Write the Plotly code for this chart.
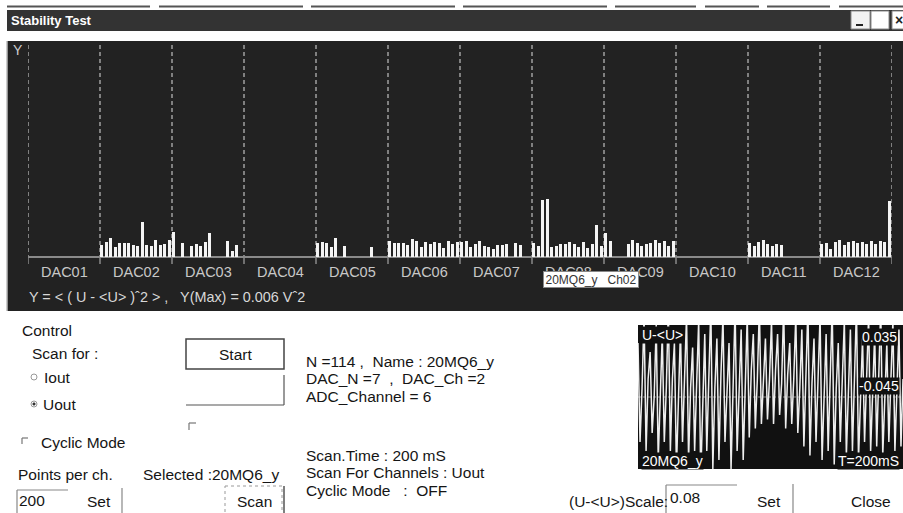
import plotly.graph_objects as go

W, H = 903, 513
FONT = "Liberation Sans, Arial, sans-serif"
FS = 15.5

# ---------------- data ----------------
dac_names = ["DAC01", "DAC02", "DAC03", "DAC04", "DAC05", "DAC06",
             "DAC07", "DAC08", "DAC09", "DAC10", "DAC11", "DAC12"]
channels_per_dac = 16
# Y = <(U-<U>)^2> per channel, units of 1e-5 V^2 (full scale Y(Max)=0.006 V^2 = 600)
dac01 = [0] * 16
dac02 = [33, 43, 52, 29, 40, 38, 40, 34, 32, 98, 34, 32, 47, 33, 35, 47]
dac03 = [71, 0, 40, 0, 31, 36, 32, 42, 67, 0, 0, 0, 45, 18, 33, 0]
dac04 = [0] * 16
dac05 = [39, 43, 40, 29, 54, 0, 31, 0, 0, 0, 0, 0, 29, 0, 0, 0]
dac06 = [45, 38, 38, 38, 33, 49, 45, 29, 41, 36, 43, 38, 24, 45, 36, 41]
dac07 = [41, 45, 29, 35, 44, 31, 27, 23, 34, 34, 37, 0, 39, 33, 0, 0]
dac08 = [38, 32, 159, 162, 27, 30, 36, 36, 42, 35, 28, 43, 24, 37, 89, 32]
dac09 = [68, 44, 0, 0, 0, 35, 47, 38, 30, 37, 38, 47, 40, 45, 30, 46]
dac10 = [0] * 16
dac11 = [39, 30, 41, 47, 37, 31, 36, 33, 0, 0, 0, 0, 0, 0, 0, 0]
dac12 = [37, 40, 23, 43, 47, 34, 42, 45, 40, 42, 36, 45, 37, 45, 43, 156]
y_full_scale = 600

# U-<U> waveform of selected channel (V), display scale 0.08
wave = [0.06, -0.05, 0.01, 0.09, -0.06, 0.02, 0.05, -0.04, 0.0, 0.08, -0.07, 0.015,
        0.07, -0.05, 0.01, 0.1, -0.06, 0.02, 0.06, -0.08, 0.0, 0.075, -0.05, 0.02,
        0.09, -0.07, 0.01, 0.055, -0.06, 0.015, 0.085, -0.09, 0.0, 0.07, -0.06, 0.02,
        0.1, -0.08, 0.01, 0.065, -0.07, 0.025, 0.09, -0.05, 0.01, 0.06, -0.08, 0.02,
        0.1, -0.06, 0.015, 0.075, -0.07, 0.02, 0.09, -0.045, 0.03, 0.07, -0.035, 0.02,
        0.1, -0.03, 0.025, 0.065, -0.025, 0.02, 0.085, -0.03, 0.03, 0.07, -0.02, 0.015,
        0.1, -0.035, 0.025, 0.06, -0.03, 0.02, 0.09, -0.04, 0.01, 0.075, -0.055, 0.02,
        0.1, -0.065, 0.015, 0.065, -0.05, 0.02, 0.09, -0.07, 0.01, 0.07, -0.06, 0.025,
        0.1, -0.075, 0.01, 0.06, -0.05, 0.02, 0.085, -0.065, 0.015, 0.075, -0.06, 0.02,
        0.1, -0.07, 0.01, 0.065, -0.05, 0.02, 0.09, -0.06, 0.015, 0.07, -0.055, 0.02,
        0.1, -0.065, 0.01, 0.06, -0.05, 0.02, 0.085, -0.06, 0.015, 0.075, -0.055, 0.02]
wave_scale = 0.08

values = (dac01 + dac02 + dac03 + dac04 + dac05 + dac06 +
          dac07 + dac08 + dac09 + dac10 + dac11 + dac12)
n_ch = len(values)


def X(px):
    return px / W


def Y(py):
    return 1 - py / H


shapes = []
ann = []


def rect(x0, y0, x1, y1, fill=None, line=None, lw=1, dash=None, layer="below"):
    shapes.append(dict(type="rect", xref="paper", yref="paper",
                       x0=X(x0), x1=X(x1), y0=Y(y0), y1=Y(y1),
                       fillcolor=fill or "rgba(0,0,0,0)",
                       line=dict(color=line or "rgba(0,0,0,0)", width=lw if line else 0,
                                 dash=dash or "solid"),
                       layer=layer))


def seg(x0, y0, x1, y1, color, lw=1, dash="solid", layer="above"):
    shapes.append(dict(type="line", xref="paper", yref="paper",
                       x0=X(x0), x1=X(x1), y0=Y(y0), y1=Y(y1),
                       line=dict(color=color, width=lw, dash=dash), layer=layer))


def txt(x, y, s, size=FS, color="#151515", anchor="left", bold=False, bg=None, **kw):
    d = dict(xref="paper", yref="paper", x=X(x), y=Y(y), text=("<b>%s</b>" % s) if bold else s,
             showarrow=False, xanchor=anchor, yanchor="middle",
             font=dict(family=FONT, size=size, color=color), borderpad=0)
    if bg:
        d["bgcolor"] = bg
    d.update(kw)
    ann.append(d)


# ---------------- window chrome ----------------
for a, b in [(7, 150), (159, 303), (311, 455), (463, 607), (615, 696),
             (705, 759), (767, 830), (839, 903)]:
    seg(a, 6.5, b, 6.5, "#555555", 2, layer="below")
rect(7, 10, 903, 31, fill="#333333")
txt(10, 20.5, "Stability Test", size=13, color="#ffffff", bold=True)
rect(851, 11, 870, 29, fill="#f2f2f2", line="#888888")
seg(856, 25, 863, 25, "#222222", 2)
rect(871, 11, 889, 29, fill="#ffffff", line="#888888")
rect(892, 11, 906, 29, fill="#ffffff", line="#888888")
txt(894, 20, "×", size=14, color="#222222", bold=True)

# main dark panel
rect(7, 41, 903, 311, fill="#222222")
seg(7, 41, 7, 311, "#bbbbbb", 1.5)
txt(12, 50, "Y", size=14, color="#cccccc")

# section dividers, baseline, ticks, labels (in bar-axis data coords)
for i in range(len(dac_names) + 1):
    xb = i * channels_per_dac
    shapes.append(dict(type="line", xref="x", yref="paper", x0=xb, x1=xb,
                       y0=Y(45), y1=Y(256), line=dict(color="#a0a0a0", width=1.5, dash="4px,3px"),
                       layer="below"))
    shapes.append(dict(type="line", xref="x", yref="paper", x0=xb, x1=xb,
                       y0=Y(257), y1=Y(264), line=dict(color="#8a8a8a", width=1.5), layer="below"))
shapes.append(dict(type="line", xref="x", yref="paper", x0=0, x1=n_ch,
                   y0=Y(257), y1=Y(257), line=dict(color="#8a8a8a", width=2), layer="below"))
for i, nm in enumerate(dac_names):
    ann.append(dict(xref="x", yref="paper", x=i * channels_per_dac + channels_per_dac / 2,
                    y=Y(272), text=nm, showarrow=False, xanchor="center", yanchor="middle",
                    font=dict(family=FONT, size=14.5, color="#c8c8c8")))
txt(28, 297, "Y = &lt; ( U - &lt;U&gt; )ˆ2 &gt; ,   Y(Max) = 0.006 Vˆ2", size=14.4, color="#d8d8d8")

# tooltip over selected channel
ann.append(dict(xref="paper", yref="paper", x=X(591), y=Y(279.5), text="20MQ6_y   Ch02",
                showarrow=False, xanchor="center", yanchor="middle",
                font=dict(family=FONT, size=12, color="#333333"),
                bgcolor="#ffffff", bordercolor="#888888", borderwidth=1,
                width=94, height=15, borderpad=0))

# ---------------- lower control area ----------------
txt(21, 330, "Control")
txt(31, 353, "Scan for :")
shapes.append(dict(type="circle", xref="paper", yref="paper", x0=X(31), x1=X(37),
                   y0=Y(374), y1=Y(380), line=dict(color="#999999", width=1)))
txt(43, 377, "Iout")
shapes.append(dict(type="circle", xref="paper", yref="paper", x0=X(31), x1=X(37),
                   y0=Y(401), y1=Y(407), line=dict(color="#999999", width=1)))
shapes.append(dict(type="circle", xref="paper", yref="paper", x0=X(32.7), x1=X(35.3),
                   y0=Y(402.7), y1=Y(405.3), fillcolor="#333333", line=dict(color="#333333", width=0.5)))
txt(42, 404, "Uout")
seg(22, 438, 28, 438, "#777777", 1.2)
seg(22, 438, 22, 444, "#777777", 1.2)
txt(40, 442, "Cyclic Mode")
txt(17, 474, "Points per ch.")
txt(142, 474, "Selected :20MQ6_y")

# Start button & boxes
rect(186, 339, 284, 369, fill="#ffffff", line="#444444", lw=1.5, layer="above")
txt(235, 354, "Start", anchor="center")
seg(284, 375, 284, 405, "#555555", 1.2)
seg(186, 405, 284, 405, "#555555", 1.2)
seg(189, 423, 196, 423, "#777777", 1.2)
seg(189, 423, 189, 430, "#777777", 1.2)

# points per ch input + Set
seg(17, 490, 68, 490, "#888888", 1.2)
seg(17, 490, 17, 513, "#888888", 1.2)
txt(18, 500, "200")
txt(99, 501, "Set", anchor="center")
seg(122, 488, 122, 513, "#888888", 1.2)

# Scan button (focused)
rect(225, 486, 282, 514, line="#999999", lw=1, dash="dot", layer="above")
seg(284, 486, 284, 513, "#555555", 1.5)
txt(254, 501, "Scan", anchor="center")

# channel info
txt(305, 361, "N =114 ,  Name : 20MQ6_y")
txt(305, 378, "DAC_N =7  ,  DAC_Ch =2")
txt(305, 396, "ADC_Channel = 6")
txt(305, 455, "Scan.Time : 200 mS")
txt(305, 472, "Scan For Channels : Uout")
txt(305, 490, "Cyclic Mode   :  OFF")

# scale controls
txt(568, 501, "(U-&lt;U&gt;)Scale:")
seg(666, 485, 737, 485, "#888888", 1.2)
seg(666, 485, 666, 513, "#888888", 1.2)
txt(669, 497, "0.08")
txt(769, 501, "Set", anchor="center")
seg(793, 484, 793, 513, "#888888", 1.2)
txt(871, 501, "Close", anchor="center")

# waveform panel
rect(638, 325, 903, 469, fill="#111111")
seg(638, 397, 903, 397, "#888888", 1, dash="3px,2px", layer="below")
txt(641, 335, "U-&lt;U&gt;", size=14, color="#ffffff", bg="#111111")
txt(898, 337, "0.035", size=14, color="#ffffff", anchor="right", bg="#111111")
txt(900, 386, "-0.045", size=14, color="#ffffff", anchor="right", bg="#111111")
txt(641, 461, "20MQ6_y", size=14, color="#ffffff", bg="#111111")
txt(900, 461, "T=200mS", size=14, color="#ffffff", anchor="right", bg="#111111")

# ---------------- traces ----------------
fig = go.Figure()
fig.add_trace(go.Bar(x=list(range(n_ch)), y=values, offset=0, width=0.7,
                     marker=dict(color="#f4f4f4", line=dict(width=0)),
                     xaxis="x", yaxis="y", hoverinfo="skip"))
fig.add_trace(go.Scatter(x=list(range(len(wave))), y=wave, mode="lines",
                         line=dict(color="#eeeeee", width=1.5),
                         xaxis="x2", yaxis="y2", hoverinfo="skip"))

fig.update_layout(
    width=W, height=H, margin=dict(l=0, r=0, t=0, b=0),
    paper_bgcolor="#ffffff", plot_bgcolor="rgba(0,0,0,0)",
    showlegend=False, bargap=0,
    xaxis=dict(domain=[X(28), X(892)], range=[0, n_ch], visible=False, fixedrange=True),
    yaxis=dict(domain=[Y(257), Y(42)], range=[0, y_full_scale], visible=False, fixedrange=True),
    xaxis2=dict(domain=[X(638), 1.0], range=[0, len(wave) - 1], visible=False,
                anchor="y2", fixedrange=True),
    yaxis2=dict(domain=[Y(469), Y(325)], range=[-wave_scale, wave_scale], visible=False,
                anchor="x2", fixedrange=True),
    shapes=shapes, annotations=ann,
)

fig.write_html("out.html", config={"displayModeBar": False},
               post_script="document.body.style.margin='0px';document.body.style.overflow='hidden';")
